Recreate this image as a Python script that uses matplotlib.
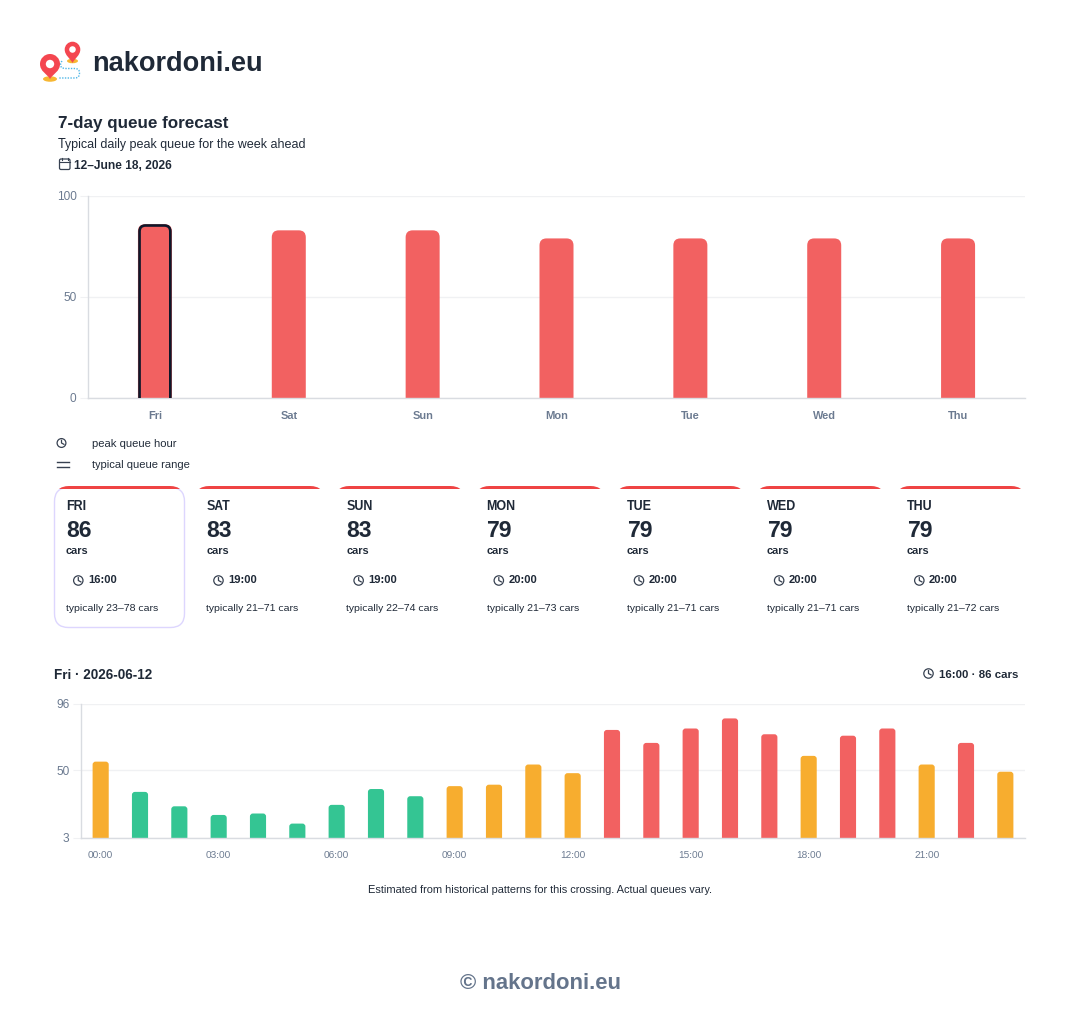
import matplotlib
matplotlib.use('Agg')
import matplotlib.pyplot as plt
from matplotlib.path import Path
from matplotlib.patches import PathPatch, Circle, Rectangle, Ellipse, FancyBboxPatch

plt.rcParams['font.family'] = ['Liberation Sans', 'DejaVu Sans']
plt.rcParams['text.hinting'] = 'default'

# week overview
days = ['Fri', 'Sat', 'Sun', 'Mon', 'Tue', 'Wed', 'Thu']
peak_cars = [86, 83, 83, 79, 79, 79, 79]
peak_hours = ['16:00', '19:00', '19:00', '20:00', '20:00', '20:00', '20:00']
typical_low = [23, 21, 22, 21, 21, 21, 21]
typical_high = [78, 71, 74, 73, 71, 71, 72]
week_ticks = [0, 50, 100]

# hourly queue for the selected day
hourly_cars = [56, 35, 25, 19, 20, 13, 26, 37, 32, 39, 40, 54,
               48, 78, 69, 79, 86, 75, 60, 74, 79, 54, 69, 49]
hour_labels = ['00:00', '03:00', '06:00', '09:00', '12:00', '15:00', '18:00', '21:00']
hour_ticks = [3, 50, 96]

W, H = 1080, 1027
RED = '#f26161'
ORANGE = '#f7ad2f'
GREEN = '#34c593'
INK = '#1f2937'
MUTED = '#6b7a90'
GRID = '#f0f1f3'
AXIS = '#d9dce1'


def rounded_bar(ax, x, width, top, base, r_px, color, **kw):
    # round only the top corners, radius given in pixels
    bb = ax.get_window_extent()
    x0, x1 = ax.get_xlim()
    y0, y1 = ax.get_ylim()
    rx = r_px * (x1 - x0) / bb.width
    ry = r_px * (y1 - y0) / bb.height
    l, r = x - width / 2, x + width / 2
    verts = [(l, base), (l, top - ry), (l, top), (l + rx, top),
             (r - rx, top), (r, top), (r, top - ry), (r, base)]
    codes = [Path.MOVETO, Path.LINETO, Path.CURVE3, Path.CURVE3,
             Path.LINETO, Path.CURVE3, Path.CURVE3, Path.LINETO]
    p = PathPatch(Path(verts, codes), facecolor=color, **kw)
    ax.add_patch(p)
    return p


def make_axes(left, right, top, bottom):
    ax = fig.add_axes([left / W, 1 - bottom / H, (right - left) / W, (bottom - top) / H])
    ax.patch.set_alpha(0)
    for s in ['top', 'right']:
        ax.spines[s].set_visible(False)
    for s in ['left', 'bottom']:
        ax.spines[s].set_color(AXIS)
        ax.spines[s].set_linewidth(1)
    ax.tick_params(axis='y', length=6, color=GRID, labelcolor=MUTED, pad=2.2)
    ax.tick_params(axis='x', length=0)
    ax.grid(axis='y', color=GRID, lw=1)
    ax.set_axisbelow(True)
    return ax


def clock(ax, x, y, r=4.5, color='#374151'):
    ax.add_patch(Circle((x, y), r, fill=False, ec=color, lw=0.9))
    ax.plot([x, x, x + r * 0.55], [y - r * 0.6, y, y + r * 0.3], color=color, lw=0.9)


def pin(ax, x, cy, r, tip):
    # map marker: round head of radius r centred on (x, cy), pointing down to tip
    verts = [(x, tip),
             (x - r * 0.3, tip - (tip - cy) * 0.35), (x - r, cy + r * 0.75), (x - r, cy),
             (x - r, cy - r * 0.55), (x - r * 0.55, cy - r), (x, cy - r),
             (x + r * 0.55, cy - r), (x + r, cy - r * 0.55), (x + r, cy),
             (x + r, cy + r * 0.75), (x + r * 0.3, tip - (tip - cy) * 0.35), (x, tip)]
    codes = [Path.MOVETO] + [Path.CURVE4] * 12
    ax.add_patch(PathPatch(Path(verts, codes), fc='#f44650', ec='none', zorder=3))
    ax.add_patch(Circle((x, cy), r * 0.42, fc='white', ec='none', zorder=4))


fig = plt.figure(figsize=(W / 100, H / 100), dpi=100, facecolor='white')

# page layer in pixel coordinates, all text sits on its baseline
page = fig.add_axes([0, 0, 1, 1])
page.set_xlim(0, W)
page.set_ylim(H, 0)
page.axis('off')

# logo
route = Path([(62, 61), (59, 65), (62, 68), (66, 68.5), (75, 68.5), (79.5, 68.5), (79.5, 73), (79.5, 78), (75, 78), (58, 78)],
             [Path.MOVETO, Path.CURVE3, Path.CURVE3, Path.LINETO, Path.LINETO, Path.CURVE3, Path.CURVE3, Path.CURVE3, Path.CURVE3, Path.LINETO])
page.add_patch(PathPatch(route, fill=False, ec='#4fb6e6', lw=1.0, ls=(0, (1, 1))))
page.add_patch(Ellipse((50, 79), 14, 5.5, fc='#f7b733', ec='none', zorder=2))
page.add_patch(Ellipse((72.5, 61), 11, 4.5, fc='#f7b733', ec='none', zorder=2))
pin(page, 50, 64, 10, 79)
pin(page, 72.5, 49.5, 7.8, 63)
page.text(92, 71, 'nakordoni.eu', fontsize=19.5, fontweight='bold', color=INK)

# heading
page.text(58, 128, '7-day queue forecast', fontsize=12.24, fontweight='bold', color=INK)
page.text(58, 148, 'Typical daily peak queue for the week ahead', fontsize=9, color=INK)
page.text(74.5, 169, '12\u2013June 18, 2026', fontsize=8.64, fontweight='bold', color=INK)
page.add_patch(FancyBboxPatch((59.5, 159), 10.5, 10.5, boxstyle='round,pad=0,rounding_size=1.5', fill=False, ec='#374151', lw=0.9))
page.plot([59.5, 70], [162, 162], color='#374151', lw=0.8)
page.plot([62, 62], [157.5, 160], color='#374151', lw=0.8)
page.plot([67.5, 67.5], [157.5, 160], color='#374151', lw=0.8)

# week chart
week = make_axes(88, 1025, 196, 398)
week.set_xlim(-0.5, len(days) - 0.5)
week.set_ylim(0, 100)
week.set_yticks(week_ticks)
week.set_yticklabels([str(t) for t in week_ticks], fontsize=8.64)
week.set_xticks(range(len(days)))
week.set_xticklabels(days, fontsize=7.92, fontweight='bold', color=MUTED, va='baseline')
week.tick_params(axis='x', pad=15)
for i, v in enumerate(peak_cars):
    rounded_bar(week, i, 0.254, v, 0, 7, RED, ec='none', zorder=2)
# selected day outline, run past the baseline so only sides and top show
rounded_bar(week, 0, 0.23, peak_cars[0] - 0.6, -3, 6, 'none', ec='#0f172a', lw=1.9, zorder=3)

# legend rows
clock(page, 61.5, 443, 4.4)
page.plot([57, 68.5], [461.5, 461.5], color='#374151', lw=1)
page.plot([57, 68.5], [466.5, 466.5], color='#374151', lw=1)
page.text(92, 447, 'peak queue hour', fontsize=8.1, color=INK)
page.text(92, 468, 'typical queue range', fontsize=8.1, color=INK)

# day cards
for i, d in enumerate(days):
    x = 54 + i * 140.17
    card = FancyBboxPatch((x + 0.5, 487.5), 130, 140, boxstyle='round,pad=0,rounding_size=14',
                          fc='white', ec='#ddd6fe' if i == 0 else 'none', lw=1, zorder=1)
    page.add_patch(card)
    stripe = FancyBboxPatch((x + 1, 486), 129, 30, boxstyle='round,pad=0,rounding_size=14',
                            fc='#ef4444', ec='none', zorder=2)
    page.add_patch(stripe)
    stripe.set_clip_path(Rectangle((x, 480), 131, 9.2, transform=page.transData))
    tx = x + 12
    page.text(tx, 510, d.upper(), fontsize=9, fontweight='bold', color=INK)
    page.text(tx, 537, str(peak_cars[i]), fontsize=16.6, fontweight='bold', color=INK)
    page.text(tx, 554, 'cars', fontsize=7.92, fontweight='bold', color=INK)
    clock(page, x + 24.3, 580.5, 4.7)
    page.text(x + 33.8, 583, peak_hours[i], fontsize=8.1, fontweight='bold', color=INK)
    page.text(tx, 611, f'typically {typical_low[i]}\u2013{typical_high[i]} cars', fontsize=7.56, color=INK)

# hourly section
page.text(54, 679, 'Fri \u00b7 2026-06-12', fontsize=9.72, fontweight='bold', color=INK)
page.text(1018, 678, '16:00 \u00b7 86 cars', fontsize=8.28, fontweight='bold', color=INK, ha='right')
clock(page, 928.5, 673.5, 4.7)

hours = make_axes(81, 1025, 704, 838)
hours.set_xlim(-0.5, len(hourly_cars) - 0.5)
hours.set_ylim(hour_ticks[0], hour_ticks[-1])
hours.set_yticks(hour_ticks)
hours.set_yticklabels([str(t) for t in hour_ticks], fontsize=8.64)
hours.set_xticks(range(0, 24, 3))
hours.set_xticklabels(hour_labels, fontsize=7.2, color=MUTED, va='baseline')
hours.tick_params(axis='x', pad=14.4)
for i, v in enumerate(hourly_cars):
    c = RED if v >= 66 else ORANGE if v >= 38 else GREEN
    rounded_bar(hours, i, 0.41, v, hour_ticks[0], 3, c, ec='none', zorder=2)

page.text(540, 893, 'Estimated from historical patterns for this crossing. Actual queues vary.',
          fontsize=7.92, color=INK, ha='center')
page.text(540, 989, '\u00a9 nakordoni.eu', fontsize=15.84, fontweight='bold', color='#64748b', ha='center')

fig.savefig('out.png', dpi=100, facecolor='white')
